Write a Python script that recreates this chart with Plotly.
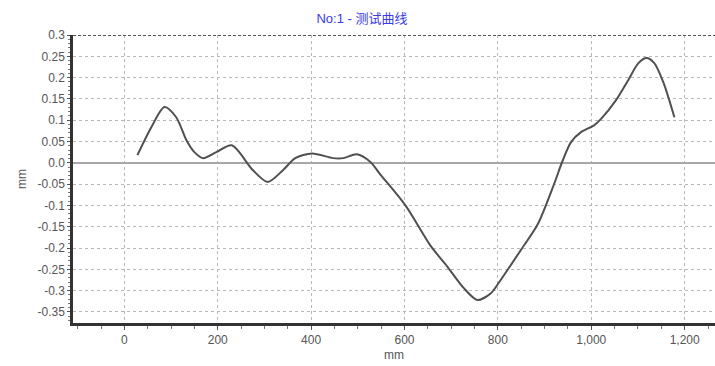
import plotly.graph_objects as go

x_mm = [28, 58, 86, 111, 133, 150, 168, 197, 230, 275, 307, 340, 366, 402, 447, 469, 498, 527, 548,
        602, 656, 692, 727, 756, 785, 806, 849, 885, 921, 939, 957, 978, 1006, 1021, 1053,
        1079, 1101, 1118, 1135, 1155, 1178]
y_mm = [0.018, 0.084, 0.131, 0.107, 0.053, 0.025, 0.011, 0.025, 0.041, -0.017, -0.045, -0.017, 0.011,
        0.022, 0.011, 0.011, 0.02, 0.002, -0.027, -0.1, -0.195, -0.244, -0.294, -0.322, -0.306,
        -0.275, -0.205, -0.145, -0.048, 0.006, 0.049, 0.072, 0.088, 0.103, 0.147, 0.194, 0.234,
        0.246, 0.234, 0.187, 0.107]

y_tick_vals = [0.3, 0.25, 0.2, 0.15, 0.1, 0.05, 0.0, -0.05, -0.1, -0.15, -0.2, -0.25, -0.3, -0.35]
y_tick_text = ["0.3", "0.25", "0.2", "0.15", "0.1", "0.05", "0.0", "-0.05", "-0.1", "-0.15", "-0.2",
               "-0.25", "-0.3", "-0.35"]
x_tick_vals = [0, 200, 400, 600, 800, 1000, 1200]
x_tick_text = ["0", "200", "400", "600", "800", "1,000", "1,200"]

title_text = "No:1 - 测试曲线"
x_title = "mm"
y_title = "mm"

font_family = "Liberation Sans, Arial, Noto Sans CJK SC, sans-serif"

fig = go.Figure()
fig.add_trace(go.Scatter(
    x=x_mm, y=y_mm, mode="lines",
    line=dict(color="#505050", width=2, shape="spline", smoothing=0.8),
    showlegend=False, hoverinfo="x+y",
))

fig.update_layout(
    width=715, height=366,
    margin=dict(l=73, r=0, t=35, b=43),
    paper_bgcolor="white", plot_bgcolor="white",
    font=dict(family=font_family, size=12, color="#555555"),
    title=dict(text=title_text, x=362 / 715, xanchor="center", y=1 - 18 / 366, yanchor="middle",
               font=dict(size=13, color="#3a3ae8", family=font_family)),
    xaxis=dict(
        range=[-110, 1265], tickvals=x_tick_vals, ticktext=x_tick_text,
        showgrid=True, gridcolor="#b8b8b8", griddash="3px,3px", gridwidth=1,
        showline=True, linecolor="#333333", linewidth=2.5,
        ticks="outside", ticklen=4, tickcolor="#555555", tickwidth=1,
        minor=dict(dtick=50, tick0=0, ticks="outside", ticklen=3, tickcolor="#777777", showgrid=False),
        zeroline=False, automargin=False,
        title=dict(text=x_title, standoff=5, font=dict(size=12, color="#555555")),
        tickfont=dict(size=12, color="#555555"),
    ),
    yaxis=dict(
        range=[-0.376, 0.3], tickvals=y_tick_vals, ticktext=y_tick_text,
        showgrid=True, gridcolor="#b8b8b8", griddash="3px,3px", gridwidth=1,
        showline=True, linecolor="#333333", linewidth=2.5,
        ticks="outside", ticklen=3, tickcolor="#555555", tickwidth=1,
        minor=dict(dtick=0.01, tick0=0, ticks="outside", ticklen=2, tickcolor="#777777", showgrid=False),
        zeroline=True, zerolinecolor="#a8a8a8", zerolinewidth=1.5,
        automargin=False,
        title=dict(text=y_title, standoff=9, font=dict(size=12, color="#555555")),
        tickfont=dict(size=12, color="#555555"),
    ),
)

# Top border drawn as a darker dashed line at the top of the plot area
fig.add_shape(type="line", xref="paper", yref="y", x0=0, x1=1, y0=0.3, y1=0.3,
              line=dict(color="#555555", width=2, dash="3px,2px"))

fig.write_html("out.html", config={"displayModeBar": False},
               post_script="document.body.style.margin='0';")
